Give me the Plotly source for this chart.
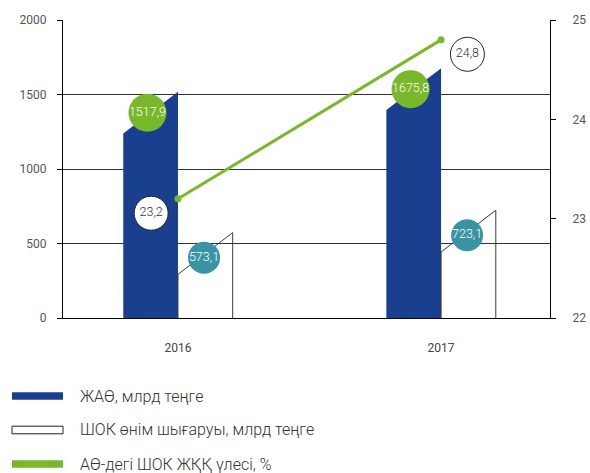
import plotly.graph_objects as go

# Data
years = ["2016", "2017"]
gva = [1517.9, 1675.8]            # ЖАӨ, млрд теңге
sme_output = [573.1, 723.1]       # ШОК өнім шығаруы, млрд теңге
sme_share = [23.2, 24.8]          # АӨ-дегі ШОК ЖҚҚ үлесі, %
legend_labels = ["ЖАӨ, млрд теңге", "ШОК өнім шығаруы, млрд теңге", "АӨ-дегі ШОК ЖҚҚ үлесі, %"]

BLUE = "#1b3f8f"
GREEN = "#79b82b"
TEAL = "#3a92a5"
FONT = "Roboto"

def fmt(v):
    return f"{v:.1f}".replace(".", ",")

centers = list(range(len(years)))
bar_w = 0.208
slant = 280  # drop of the bevelled bar top, in value units

fig = go.Figure()

def bevel_bar(x0, x1, v):
    xs = [x0, x0, x1, x1, x0]
    ys = [0, v - slant, v, 0, 0]
    return xs, ys

# Dark blue bevelled bars
for c, v in zip(centers, gva):
    xs, ys = bevel_bar(c - bar_w, c, v)
    fig.add_trace(go.Scatter(x=xs, y=ys, fill="toself", fillcolor=BLUE, mode="none",
                             hoverinfo="skip", showlegend=False))

# Outlined bevelled bars
for c, v in zip(centers, sme_output):
    xs, ys = bevel_bar(c, c + bar_w, v)
    fig.add_trace(go.Scatter(x=xs[:4], y=ys[:4], mode="lines",
                             line=dict(color="#3a3a3a", width=1),
                             hoverinfo="skip", showlegend=False))

# Share line on secondary axis
fig.add_trace(go.Scatter(x=centers, y=sme_share, yaxis="y2", mode="lines+markers",
                         line=dict(color=GREEN, width=3),
                         marker=dict(color=GREEN, size=7),
                         showlegend=False))

bubble_font = dict(color="white", size=12.5, family=FONT, weight=300)

# Value bubbles
fig.add_trace(go.Scatter(
    x=[c - bar_w / 2 - 0.012 for c in centers], y=[v - 140 for v in gva],
    mode="markers+text", text=[fmt(v) for v in gva], textposition="middle center",
    marker=dict(color=GREEN, size=38, line=dict(width=0)),
    textfont=bubble_font, showlegend=False, hoverinfo="skip"))

fig.add_trace(go.Scatter(
    x=[c + bar_w / 2 - 0.005 for c in centers], y=[v - 168 for v in sme_output],
    mode="markers+text", text=[fmt(v) for v in sme_output], textposition="middle center",
    marker=dict(color=TEAL, size=32, line=dict(width=0)),
    textfont=bubble_font, showlegend=False, hoverinfo="skip"))

side = [-0.102, 0.1]
fig.add_trace(go.Scatter(
    x=[c + s for c, s in zip(centers, side)], y=[v - 0.145 for v in sme_share], yaxis="y2",
    mode="markers+text", text=[fmt(v) for v in sme_share], textposition="middle center",
    marker=dict(color="white", size=34, line=dict(color="#222", width=1)),
    textfont=dict(color="#333", size=12.5, family=FONT, weight=300),
    showlegend=False, hoverinfo="skip"))

# Manual legend
W = 487.0
H = 298.0
legend_rows = [396, 430, 464]
styles = [dict(fillcolor=BLUE, line=dict(width=0)),
          dict(fillcolor="white", line=dict(color="#222", width=1)),
          dict(fillcolor=GREEN, line=dict(width=0))]
for row, label, st in zip(legend_rows, legend_labels, styles):
    yc = (318 - row) / H
    fig.add_shape(type="rect", xref="paper", yref="paper",
                  x0=(12 - 63) / W, x1=(63 - 63) / W,
                  y0=yc - 3.8 / H, y1=yc + 3.8 / H, **st)
    fig.add_annotation(xref="paper", yref="paper", x=(78 - 63) / W, y=yc,
                       xanchor="left", yanchor="middle", showarrow=False,
                       text=label, font=dict(size=16, color="#333", family=FONT, weight=300))

fig.update_layout(
    width=590, height=473,
    margin=dict(l=63, r=40, t=20, b=155, autoexpand=False),
    paper_bgcolor="white", plot_bgcolor="white",
    font=dict(family=FONT, size=12, color="#555"),
    xaxis=dict(range=[-0.437, 1.414], tickvals=centers, ticktext=years,
               showline=True, linecolor="black", linewidth=1, automargin=False,
               ticks="", showgrid=False, zeroline=False, ticklabelstandoff=19,
               tickfont=dict(size=12, color="#444")),
    yaxis=dict(range=[0, 2000], dtick=500, showline=True, linecolor="black",
               ticks="outside", ticklen=5, tickcolor="black", automargin=False,
               showgrid=True, gridcolor="#333", gridwidth=1, zeroline=False,
               tickfont=dict(size=12, color="#555"), ticklabelstandoff=8),
    yaxis2=dict(range=[22, 25], dtick=1, overlaying="y", side="right",
                showline=True, linecolor="black", ticks="outside", ticklen=5,
                tickcolor="black", showgrid=False, zeroline=False, automargin=False,
                tickfont=dict(size=12, color="#555"), ticklabelstandoff=14),
)

fig.write_html("out.html")
